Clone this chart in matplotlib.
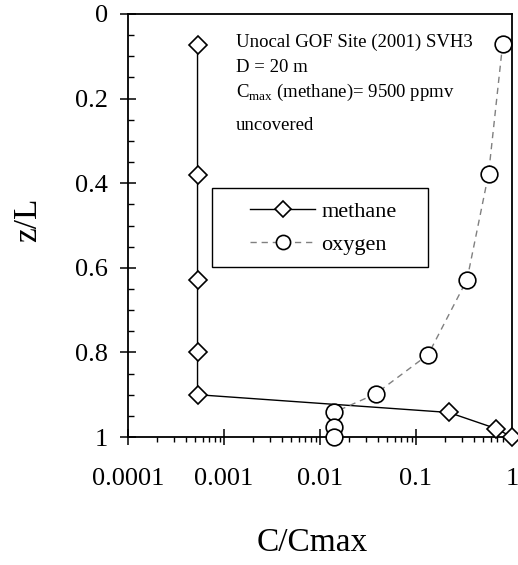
import matplotlib
matplotlib.use("Agg")
import matplotlib.pyplot as plt
import matplotlib.patches as patches
from matplotlib.ticker import MultipleLocator, LogLocator, NullFormatter

plt.rcParams["font.family"] = ["Liberation Serif", "DejaVu Serif"]
plt.rcParams["mathtext.fontset"] = "custom"
plt.rcParams["mathtext.rm"] = "Liberation Serif"

# values
methane_c = [0.00053, 0.00053, 0.00053, 0.00053, 0.00053, 0.22, 0.68, 1.0]
methane_z = [0.073, 0.38, 0.628, 0.80, 0.90, 0.942, 0.98, 1.0]
oxygen_c = [0.80, 0.57, 0.34, 0.134, 0.038, 0.014, 0.014, 0.014]
oxygen_z = [0.07, 0.378, 0.628, 0.805, 0.898, 0.942, 0.977, 1.0]

x_ticks = [0.0001, 0.001, 0.01, 0.1, 1]
x_labels = ["0.0001", "0.001", "0.01", "0.1", "1"]
y_ticks = [0, 0.2, 0.4, 0.6, 0.8, 1]
y_labels = ["0", "0.2", "0.4", "0.6", "0.8", "1"]

info_lines = ["Unocal GOF Site (2001) SVH3",
              "D = 20 m",
              r"C$_{\mathrm{max}}$ (methane)= 9500 ppmv",
              "uncovered"]

W, H = 518, 565
fig = plt.figure(figsize=(W / 100, H / 100), dpi=100)
# axes box in pixels: left 128, right 512, top 14, bottom 437
ax = fig.add_axes([128 / W, 1 - 437 / H, 384 / W, 423 / H])

ax.plot(methane_c, methane_z, color="black", lw=1.0, marker="D", ms=9.5,
        mfc="white", mec="black", mew=1.2, label="methane", clip_on=False, zorder=3)
ax.plot(oxygen_c, oxygen_z, color="#808080", lw=1.0, dashes=(4.5, 3.5),
        marker="o", ms=12, mfc="white", mec="black", mew=1.2, label="oxygen",
        clip_on=False, zorder=4)

ax.set_xscale("log")
ax.set_xlim(0.0001, 1)
ax.set_ylim(1, 0)

ax.set_xticks(x_ticks)
ax.set_xticklabels(x_labels)
ax.xaxis.set_minor_locator(LogLocator(base=10, subs=range(2, 10), numticks=20))
ax.xaxis.set_minor_formatter(NullFormatter())
ax.set_yticks(y_ticks)
ax.set_yticklabels(y_labels)
ax.yaxis.set_minor_locator(MultipleLocator(0.05))

for s in ax.spines.values():
    s.set_linewidth(1.3)

ax.tick_params(axis="both", which="major", direction="inout", length=11,
               width=1.1, labelsize=19)
ax.tick_params(axis="y", which="major", pad=9)
ax.tick_params(axis="x", which="major", pad=17)
ax.tick_params(axis="y", which="minor", direction="in", length=4.5, width=1.0)
ax.tick_params(axis="x", which="minor", direction="out", length=3.6, width=1.0)

ax.set_xlabel("C/Cmax", fontsize=24)
ax.xaxis.set_label_coords(0.481, -0.215)
ax.set_ylabel("z/L", fontsize=24)
ax.yaxis.set_label_coords(-0.222, 0.513)

# annotation text
baselines = [0.923, 0.864, 0.805, 0.726]
for txt, yb in zip(info_lines, baselines):
    ax.text(0.28, yb, txt, transform=ax.transAxes, fontsize=13.5,
            ha="left", va="baseline")

# legend with its own frame
rect = patches.Rectangle((212 / W, 1 - 267 / H), 216 / W, 79 / H,
                         transform=fig.transFigure, fill=False,
                         edgecolor="black", lw=1.0)
fig.patches.append(rect)
leg = ax.legend(loc="center", bbox_to_anchor=(323.5 / W, 1 - 228 / H),
                bbox_transform=fig.transFigure, frameon=False, fontsize=16,
                handlelength=2.9, handletextpad=0.3, labelspacing=0.55,
                borderpad=0.3, markerscale=0.85)

fig.savefig("out.png", dpi=100)
